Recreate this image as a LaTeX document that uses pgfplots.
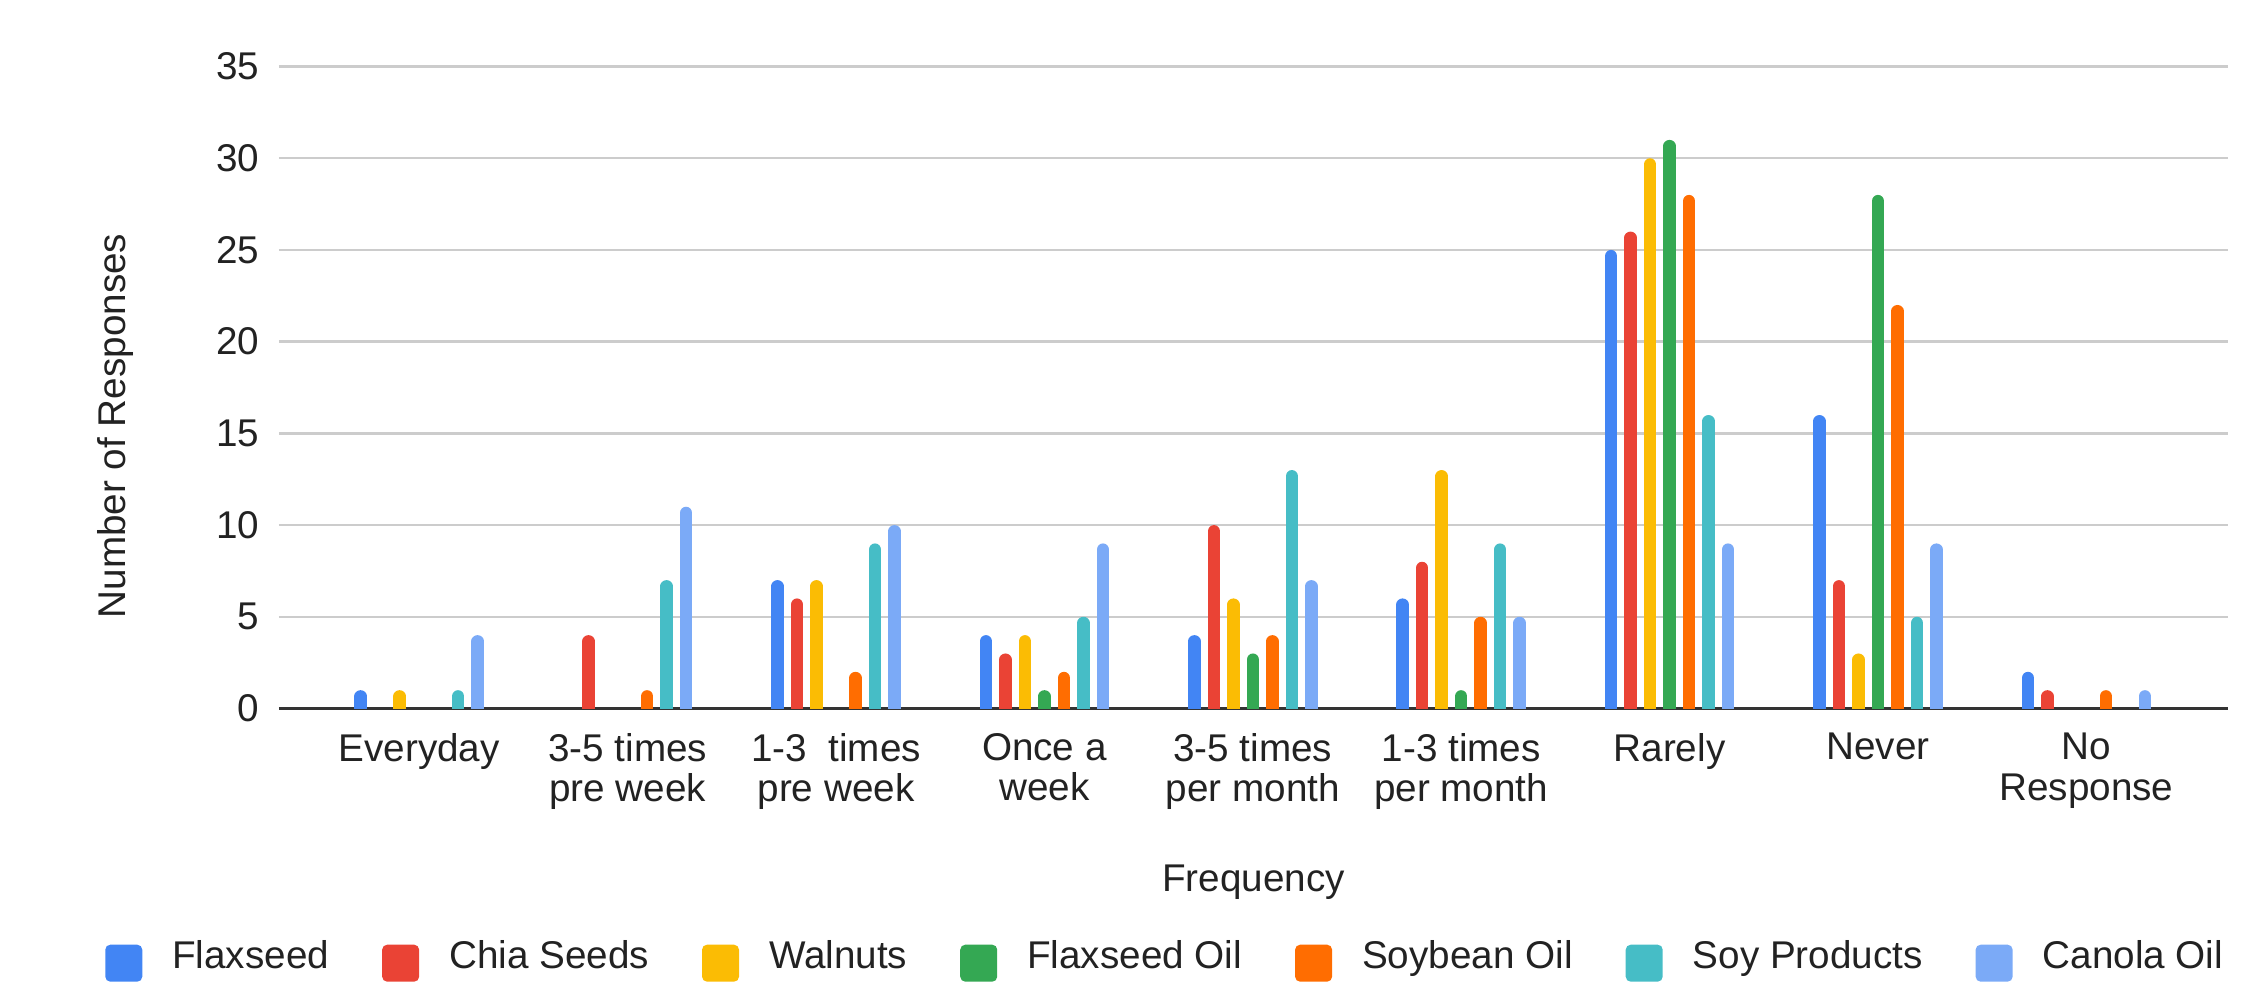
\documentclass[border=0pt]{standalone}
\usepackage{pgfplots}
\pgfplotsset{compat=1.18}
\usepackage{fontspec}
\setmainfont{Liberation Sans}

\definecolor{cFlax}{HTML}{4285F4}
\definecolor{cChia}{HTML}{EA4335}
\definecolor{cWal}{HTML}{FBBC04}
\definecolor{cFOil}{HTML}{34A853}
\definecolor{cSoyb}{HTML}{FF6D01}
\definecolor{cSoyP}{HTML}{46BDC6}
\definecolor{cCan}{HTML}{7BAAF7}
\definecolor{txt}{HTML}{222222}

\newcommand{\lblfont}{\fontsize{11}{11.6}\selectfont}

\begin{document}
\begin{tikzpicture}
\useasboundingbox (-27.9mm,-27.65mm) rectangle (198.8mm,70.85mm);
\begin{axis}[
  at={(0,0)}, anchor=south west,
  width=194.9mm, height=64.2mm, scale only axis,
  xmin=-0.673, xmax=8.68, ymin=0, ymax=35,
  xtick={0,...,8},
  xticklabels={Everyday,{3-5 times\\pre week},{1-3~~times\\pre week},{Once a\\week},{3-5 times\\per month},{1-3 times\\per month},Rarely,Never,{No\\Response}},
  ytick={0,5,...,35},
  /pgf/number format/assume math mode=true,
  major tick length=0pt,
  axis x line=bottom, axis y line=left,
  x axis line style={-, draw=black!80, line width=0.35mm},
  y axis line style={draw=none},
  ymajorgrids,
  grid style={draw=black!20, line width=0.25mm},
  tick label style={font=\lblfont, text=txt, inner sep=0pt},
  yticklabel style={xshift=-1.9mm},
  xticklabel style={align=center, yshift=-2.4mm},
  xlabel={Frequency},
  xlabel style={font=\lblfont, text=txt, at={(axis description cs:0.5,0)}, anchor=center, yshift=-17.35mm},
  ylabel={Number of Responses},
  ylabel style={font=\lblfont, text=txt, at={(axis description cs:0,0.44)}, anchor=center, yshift=16.3mm},
  clip=true,
  legend columns=7,
  legend image code/.code={\path[fill, draw=none, rounded corners=0.5mm] (0mm,-1.85mm) rectangle (3.7mm,1.85mm);},
  legend style={draw=none, fill=none, font=\lblfont, text=txt, inner sep=0pt,
    at={(axis description cs:-0.0895,-0.3933)}, anchor=west,
    nodes={inner sep=0pt},
    /tikz/every odd column/.append style={column sep=3mm},
    /tikz/every even column/.append style={column sep=5.3mm}},
  every axis plot/.append style={ycomb, line width=1.25mm, line cap=round, yshift=-0.625mm, forget plot},
]
% legend swatches
\addlegendimage{fill=cFlax}\addlegendentry{Flaxseed}
\addlegendimage{fill=cChia}\addlegendentry{Chia Seeds}
\addlegendimage{fill=cWal}\addlegendentry{Walnuts}
\addlegendimage{fill=cFOil}\addlegendentry{Flaxseed Oil}
\addlegendimage{fill=cSoyb}\addlegendentry{Soybean Oil}
\addlegendimage{fill=cSoyP}\addlegendentry{Soy Products}
\addlegendimage{fill=cCan}\addlegendentry{Canola Oil}

% bars with rounded tops (zero counts omitted)
\addplot[draw=cFlax, xshift=-5.85mm] coordinates {(0,1) (2,7) (3,4) (4,4) (5,6) (6,25) (7,16) (8,2)};
\addplot[draw=cChia, xshift=-3.9mm] coordinates {(1,4) (2,6) (3,3) (4,10) (5,8) (6,26) (7,7) (8,1)};
\addplot[draw=cWal, xshift=-1.95mm] coordinates {(0,1) (2,7) (3,4) (4,6) (5,13) (6,30) (7,3)};
\addplot[draw=cFOil, xshift=0mm] coordinates {(3,1) (4,3) (5,1) (6,31) (7,28)};
\addplot[draw=cSoyb, xshift=1.95mm] coordinates {(1,1) (2,2) (3,2) (4,4) (5,5) (6,28) (7,22) (8,1)};
\addplot[draw=cSoyP, xshift=3.9mm] coordinates {(0,1) (1,7) (2,9) (3,5) (4,13) (5,9) (6,16) (7,5)};
\addplot[draw=cCan, xshift=5.85mm] coordinates {(0,4) (1,11) (2,10) (3,9) (4,7) (5,5) (6,9) (7,9) (8,1)};
\end{axis}
\end{tikzpicture}
\end{document}
